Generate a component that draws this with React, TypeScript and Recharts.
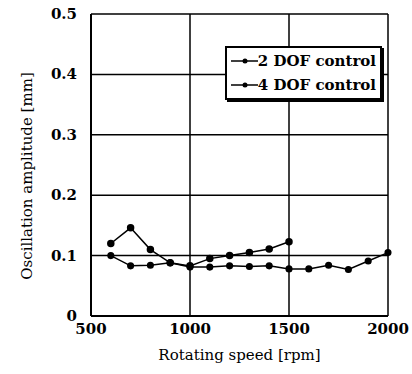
import React from 'react';
import { LineChart, Line, XAxis, YAxis, CartesianGrid } from 'recharts';

const rpm = [600, 700, 800, 900, 1000, 1100, 1200, 1300, 1400, 1500, 1600, 1700, 1800, 1900, 2000];
const dof2 = [0.12, 0.146, 0.11, 0.088, 0.083, 0.095, 0.1, 0.105, 0.111, 0.123];
const dof4 = [0.1, 0.083, 0.084, 0.088, 0.081, 0.081, 0.083, 0.082, 0.083, 0.078, 0.078, 0.084, 0.077, 0.091, 0.105];
const xTicks = [500, 1000, 1500, 2000];
const yTicks = [0, 0.1, 0.2, 0.3, 0.4, 0.5];
const seriesNames = ['2 DOF control', '4 DOF control'];

const FONT = '"DejaVu Serif", "Liberation Serif", serif';

const data = rpm.map((r, i) => ({
  rpm: r,
  dof2: i < dof2.length ? dof2[i] : null,
  dof4: dof4[i],
}));

const YTick = (props: any) => {
  const { x, y, payload } = props;
  const v = payload.value === 0 ? '0' : payload.value.toFixed(1);
  return (
    <text x={x - 6} y={y} dy={5} textAnchor="end" fontFamily={FONT} fontWeight="bold" fontSize={15} fill="#000">
      {v}
    </text>
  );
};

const XTick = (props: any) => {
  const { x, y, payload } = props;
  return (
    <text x={x} y={y} dy={10} textAnchor="middle" fontFamily={FONT} fontWeight="bold" fontSize={15} fill="#000">
      {payload.value}
    </text>
  );
};

const YTitle = () => (
  <text x={27} y={176} transform="rotate(-90 27 176)" textAnchor="middle" dominantBaseline="central" fontFamily={FONT} fontSize={15} fill="#000">
    Oscillation amplitude [mm]
  </text>
);

// legend drawn as an overlay so it does not shrink the plot area
const LegendBox = () => (
  <div
    style={{
      position: 'absolute',
      left: 225,
      top: 46,
      border: '2px solid #000',
      boxShadow: '2px 2px 0 #000',
      background: '#fff',
      padding: '1px 4px 1px 3px',
      fontFamily: FONT,
      fontWeight: 'bold',
      fontSize: 15,
      lineHeight: '24px',
      width: 146,
    }}
  >
    {seriesNames.map((n) => (
      <div key={n} style={{ display: 'flex', alignItems: 'center', whiteSpace: 'nowrap' }}>
        <svg width={30} height={10}>
          <line x1={1} y1={5} x2={29} y2={5} stroke="#000" strokeWidth={1.5} />
          <circle cx={15} cy={5} r={2.5} fill="#000" />
        </svg>
        <span>{n}</span>
      </div>
    ))}
  </div>
);

export default function App() {
  return (
    <div style={{ position: 'absolute', left: 0, top: 0, width: 412, height: 374, background: '#fff' }}>
      <LineChart width={412} height={374} data={data} margin={{ top: 14, right: 24, left: 0, bottom: 0 }}>
        <CartesianGrid stroke="#000" strokeWidth={1.5} />
        <XAxis
          dataKey="rpm"
          type="number"
          domain={[500, 2000]}
          ticks={xTicks}
          tick={<XTick />}
          tickLine={false}
          axisLine={{ stroke: '#000', strokeWidth: 2 }}
          height={58}
          label={{ value: 'Rotating speed [rpm]', position: 'insideBottom', offset: 14, fontFamily: FONT, fontSize: 15, fill: '#000' }}
        />
        <YAxis
          type="number"
          domain={[0, 0.5]}
          ticks={yTicks}
          tick={<YTick />}
          tickLine={false}
          axisLine={{ stroke: '#000', strokeWidth: 2 }}
          width={91}
          label={<YTitle />}
        />
        <Line dataKey="dof2" stroke="#000" strokeWidth={1.5} dot={{ r: 3, fill: '#000', stroke: '#000' }} isAnimationActive={false} connectNulls={false} />
        <Line dataKey="dof4" stroke="#000" strokeWidth={1.5} dot={{ r: 2.8, fill: '#000', stroke: '#000' }} isAnimationActive={false} />
      </LineChart>
      <LegendBox />
    </div>
  );
}
